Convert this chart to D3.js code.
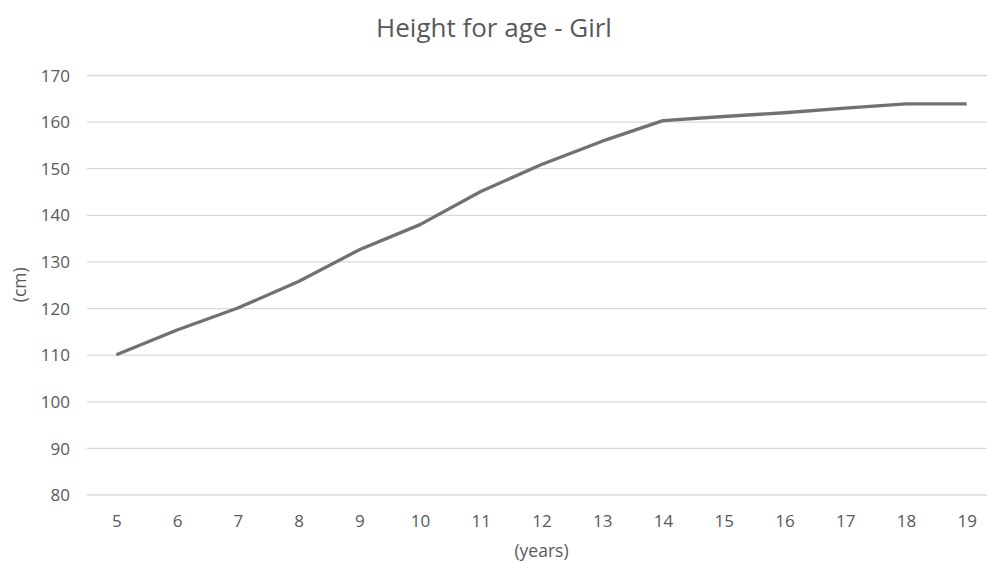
<!DOCTYPE html>
<html>
<head>
<meta charset="utf-8">
<script src="https://cdn.jsdelivr.net/npm/d3@7"></script>
<style>
  html, body { margin: 0; padding: 0; background: #fff; }
  svg { display: block; }
  text { font-family: "Open Sans", sans-serif; fill: #595959; }
</style>
</head>
<body>
<svg id="chart" width="987" height="563"></svg>
<script>
const ages = [5, 6, 7, 8, 9, 10, 11, 12, 13, 14, 15, 16, 17, 18, 19];
const heights = [110, 115.3, 120, 125.7, 132.5, 137.9, 145, 150.8, 155.8, 160.2, 161.1, 161.9, 162.9, 163.8, 163.8];
const yTicks = [80, 90, 100, 110, 120, 130, 140, 150, 160, 170];
const titleText = "Height for age - Girl";
const xLabel = "(years)";
const yLabel = "(cm)";

const svg = d3.select("#chart");
const W = 987, H = 563;
const mLeft = 86, mRight = 997, mTop = 75, mBottom = 494.5;

const x = d3.scalePoint().domain(ages).range([mLeft, mRight]).padding(0.5);
const y = d3.scaleLinear().domain([80, 170]).range([mBottom, mTop]);

// gridlines
const yAxis = d3.axisLeft(y).tickValues(yTicks).tickSize(-(W - 87)).tickPadding(16);
const gy = svg.append("g").attr("transform", "translate(87,0)").call(yAxis);
gy.select(".domain").remove();
gy.selectAll(".tick line").attr("stroke", "#d9d9d9").attr("stroke-width", 1.3);
gy.selectAll(".tick text").attr("font-size", 17).attr("fill", "#555")
  .attr("x", 70 - 87).attr("dy", "0.36em");

// x axis
const xAxis = d3.axisBottom(x).tickSize(0).tickPadding(20);
const gx = svg.append("g").attr("transform", `translate(0,${mBottom})`).call(xAxis);
gx.select(".domain").remove();
gx.selectAll(".tick text").attr("font-size", 17).attr("fill", "#555").attr("dy", "0.71em");

// line
const line = d3.line().x((d, i) => x(ages[i])).y(d => y(d));
svg.append("path").datum(heights)
  .attr("d", line)
  .attr("fill", "none")
  .attr("stroke", "#717171")
  .attr("stroke-width", 3.3)
  .attr("stroke-linejoin", "round");

// title
svg.append("text").attr("x", 494).attr("y", 37).attr("text-anchor", "middle")
  .attr("font-size", 26).attr("fill", "#555").text(titleText);

// axis titles
svg.append("text").attr("x", (mLeft + mRight) / 2).attr("y", 557).attr("text-anchor", "middle")
  .attr("font-size", 17.5).attr("fill", "#555").text(xLabel);
svg.append("text").attr("transform", `translate(26,${(mTop + mBottom) / 2}) rotate(-90)`)
  .attr("text-anchor", "middle").attr("font-size", 17.5).attr("fill", "#555").text(yLabel);
</script>
</body>
</html>
